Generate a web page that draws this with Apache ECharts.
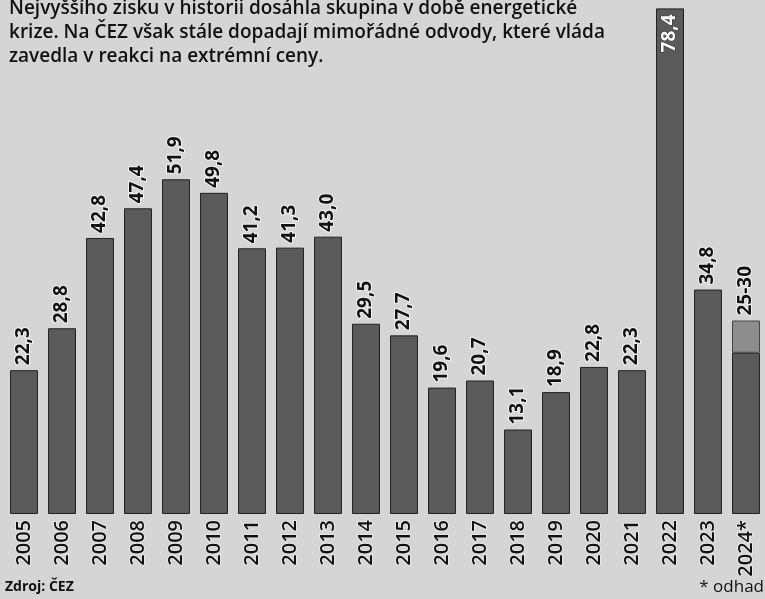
<!DOCTYPE html>
<html>
<head>
<meta charset="utf-8">
<script src="https://cdn.jsdelivr.net/npm/echarts@6/dist/echarts.min.js"></script>
<style>
  html, body { margin: 0; padding: 0; background: #d5d5d5; }
  #container { width: 765px; height: 599px; }
</style>
</head>
<body>
<div id="container"></div>
<script>
var years = ["2005", "2006", "2007", "2008", "2009", "2010", "2011", "2012", "2013", "2014",
  "2015", "2016", "2017", "2018", "2019", "2020", "2021", "2022", "2023", "2024*"];
// zisk skupiny CEZ (mld. Kc); 2024 = spodni hranice odhadu
var profit = [22.3, 28.8, 42.8, 47.4, 51.9, 49.8, 41.2, 41.3, 43.0, 29.5,
  27.7, 19.6, 20.7, 13.1, 18.9, 22.8, 22.3, 78.4, 34.8, 25];
// rozpeti odhadu 2024 (25-30)
var estimateRange = ["-", "-", "-", "-", "-", "-", "-", "-", "-", "-",
  "-", "-", "-", "-", "-", "-", "-", "-", "-", 5];
var estimateLabel = "25-30";

var dom = document.getElementById("container");
var myChart = echarts.init(dom);

var fontFamily = "'Open Sans', 'Noto Sans', sans-serif";

var valueLabel = {
  show: true,
  position: "top",
  rotate: 90,
  align: "left",
  verticalAlign: "middle",
  distance: 5,
  fontFamily: fontFamily,
  fontSize: 19,
  fontWeight: "bold",
  color: "#111",
  textBorderColor: "#f2f2f2",
  textBorderWidth: 2,
  formatter: function(p) {
    return p.value.toFixed(1).replace(".", ",");
  }
};

var profitData = profit.map(function(v, i) {
  if (years[i] === "2022") {
    return {
      value: v,
      label: {
        position: "insideTop",
        align: "right",
        distance: 6,
        color: "#fff",
        textBorderColor: "#333",
        textBorderWidth: 1
      }
    };
  }
  if (years[i] === "2024*") {
    return { value: v, label: { show: false } };
  }
  return v;
});

var option = {
  backgroundColor: "#d5d5d5",
  animation: false,
  title: {
    text: "Nejvyššího zisku v historii dosáhla skupina v době energetické\nkrize. Na ČEZ však stále dopadají mimořádné odvody, které vláda\nzavedla v reakci na extrémní ceny.",
    left: 4,
    top: -8,
    textStyle: {
      fontFamily: fontFamily,
      fontSize: 19,
      fontWeight: 600,
      lineHeight: 24,
      color: "#111"
    }
  },
  graphic: [
    {
      type: "text",
      left: 5,
      top: 580,
      style: {
        text: "Zdroj: ČEZ",
        font: "bold 14px " + fontFamily,
        fill: "#111"
      }
    },
    {
      type: "text",
      right: 1,
      top: 579,
      style: {
        text: "* odhad",
        font: "17px " + fontFamily,
        fill: "#111"
      }
    }
  ],
  grid: {
    left: 5,
    right: -6,
    top: 0,
    bottom: 85
  },
  xAxis: {
    type: "category",
    data: years,
    axisLine: { show: false },
    axisTick: { show: false },
    axisLabel: {
      rotate: 90,
      margin: 6,
      interval: 0,
      fontFamily: fontFamily,
      fontSize: 20,
      fontWeight: 600,
      color: "#111",
      textBorderColor: "#eee",
      textBorderWidth: 1.5
    }
  },
  yAxis: {
    type: "value",
    min: 0,
    max: 79.7,
    show: false,
    splitLine: { show: false }
  },
  series: [
    {
      name: "Zisk",
      type: "bar",
      stack: "zisk",
      barWidth: 28,
      data: profitData,
      itemStyle: {
        color: "#5a5a5a",
        borderColor: "#222",
        borderWidth: 1
      },
      label: valueLabel
    },
    {
      name: "Odhad",
      type: "bar",
      stack: "zisk",
      barWidth: 28,
      data: estimateRange,
      itemStyle: {
        color: "#8d8d8d",
        borderColor: "#444",
        borderWidth: 1
      },
      label: {
        show: true,
        position: "top",
        rotate: 90,
        align: "left",
        verticalAlign: "middle",
        distance: 5,
        fontFamily: fontFamily,
        fontSize: 19,
        fontWeight: "bold",
        color: "#111",
        textBorderColor: "#f2f2f2",
        textBorderWidth: 2,
        formatter: function() {
          return estimateLabel;
        }
      }
    }
  ]
};

if (option && typeof option === "object") {
  myChart.setOption(option, true);
}
</script>
</body>
</html>
